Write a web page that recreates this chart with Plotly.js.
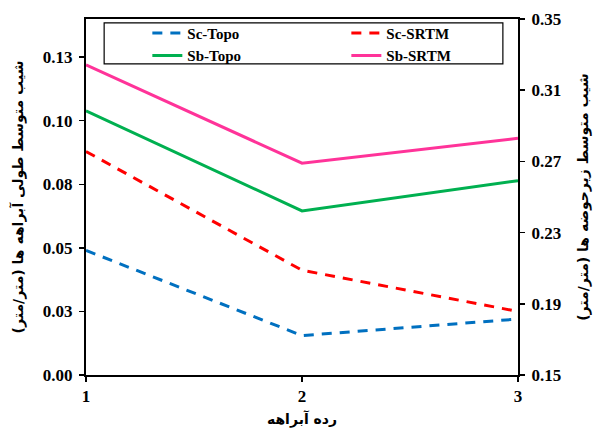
<!DOCTYPE html>
<html><head><meta charset="utf-8">
<script src="https://cdn.plot.ly/plotly-3.0.1.min.js"></script>
<style>html,body{margin:0;padding:0;background:#fff}</style>
</head><body><div id="chart" style="width:599px;height:439px"></div>
<script>
const orders = [1, 2, 3];
const scTopo = [0.0490, 0.0155, 0.0220];
const scSrtm = [0.0879, 0.0412, 0.0250];
const sbTopo = [0.2984, 0.2422, 0.2592];
const sbSrtm = [0.3242, 0.2690, 0.2830];
const leftTickVals = [0, 0.025, 0.05, 0.075, 0.1, 0.125];
const leftTickText = ['0.00', '0.03', '0.05', '0.08', '0.10', '0.13'];
const rightTickVals = [0.15, 0.19, 0.23, 0.27, 0.31, 0.35];
const xTitle = 'رده آبراهه';
const leftTitle = 'شیب متوسط طولی آبراهه ها (متر/متر)';
const rightTitle = 'شیب متوسط زیرحوضه ها (متر/متر)';

const serif = {family: 'Liberation Serif, Times New Roman, serif', size: 17, color: '#000', weight: 'bold'};
const fa = {family: 'DejaVu Sans, sans-serif', size: 14, color: '#000', weight: 'bold'};

const traces = [
  {x: orders, y: scTopo, name: 'Sc-Topo', mode: 'lines', yaxis: 'y',
   line: {color: '#0070C0', width: 3, dash: '10px,8px'}},
  {x: orders, y: scSrtm, name: 'Sc-SRTM', mode: 'lines', yaxis: 'y',
   line: {color: '#FF0000', width: 3, dash: '10px,8px'}},
  {x: orders, y: sbTopo, name: 'Sb-Topo', mode: 'lines', yaxis: 'y2',
   line: {color: '#00B050', width: 3}},
  {x: orders, y: sbSrtm, name: 'Sb-SRTM', mode: 'lines', yaxis: 'y2',
   line: {color: '#FF3399', width: 3}}
];

const layout = {
  width: 599, height: 439,
  margin: {l: 86, r: 81, t: 19, b: 64},
  paper_bgcolor: '#fff', plot_bgcolor: '#fff',
  showlegend: true,
  legend: {orientation: 'h', x: 0.142, y: 1.006, xanchor: 'left', yanchor: 'top',
    entrywidth: 154, entrywidthmode: 'pixels', tracegroupgap: 0,
    bgcolor: 'rgba(0,0,0,0)', borderwidth: 0,
    font: {family: 'Liberation Serif, Times New Roman, serif', size: 15, color: '#000', weight: 'bold'}},
  shapes: [{type: 'rect', xref: 'paper', yref: 'paper', x0: 0.042, x1: 0.965, y0: 0.874, y1: 0.989,
    line: {color: '#000', width: 1.2}, fillcolor: 'rgba(0,0,0,0)'}],
  xaxis: {range: [1, 3], tickvals: orders, ticktext: orders.map(String),
    showgrid: false, zeroline: false, showline: true, linecolor: '#000', linewidth: 2,
    mirror: true, ticks: 'outside', ticklen: 5, tickwidth: 1.5, tickcolor: '#000',
    tickfont: serif, title: {text: xTitle, font: fa, standoff: 9}},
  yaxis: {range: [0, 0.14], tickvals: leftTickVals, ticktext: leftTickText,
    showgrid: false, zeroline: false, showline: true, linecolor: '#000', linewidth: 2,
    ticks: 'outside', ticklen: 5, tickwidth: 1.5, tickcolor: '#000', ticklabelstandoff: 3,
    tickfont: serif, title: {text: leftTitle, font: fa, standoff: 16}},
  yaxis2: {range: [0.15, 0.35], tickvals: rightTickVals, tickformat: '.2f',
    overlaying: 'y', side: 'right',
    showgrid: false, zeroline: false, showline: true, linecolor: '#000', linewidth: 2,
    ticks: 'outside', ticklen: 5, tickwidth: 1.5, tickcolor: '#000', ticklabelstandoff: 3,
    tickfont: serif, title: {text: rightTitle, font: fa, standoff: 18}}
};

Plotly.newPlot('chart', traces, layout, {displayModeBar: false, staticPlot: true});
</script></body></html>
